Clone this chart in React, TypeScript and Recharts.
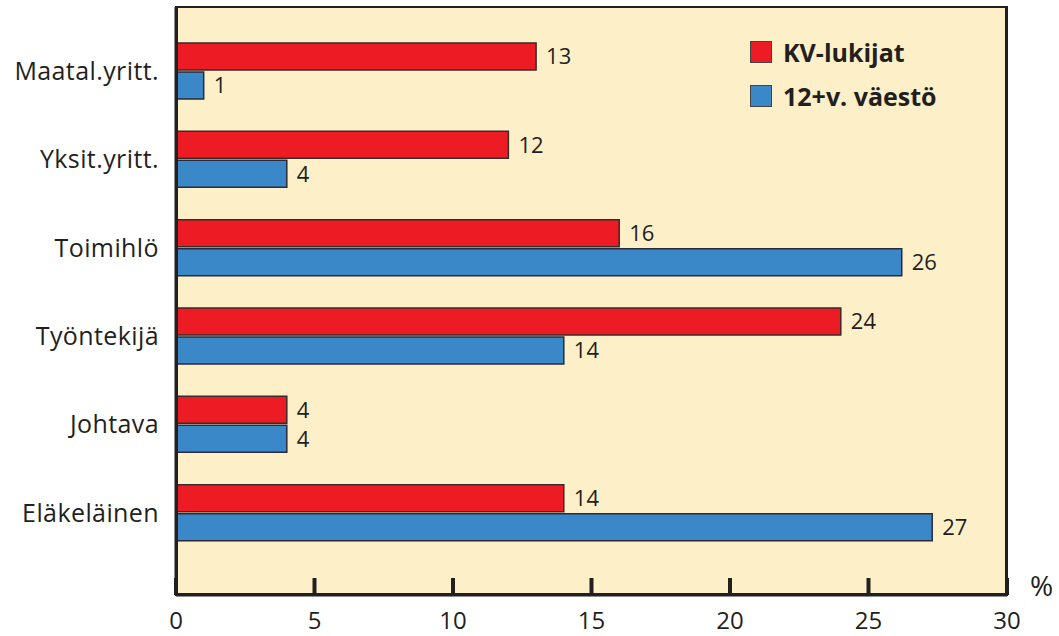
import React from "react";
import { BarChart, Bar, XAxis, YAxis, CartesianGrid, LabelList } from "recharts";

const categories = ["Maatal.yritt.", "Yksit.yritt.", "Toimihlö", "Työntekijä", "Johtava", "Eläkeläinen"];
const kvLukijat = [13, 12, 16, 24, 4, 14];
const vaesto = [1, 4, 26.2, 14, 4, 27.3];
const xTicks = [0, 5, 10, 15, 20, 25, 30];
const seriesNames = ["KV-lukijat", "12+v. väestö"];

const data = categories.map((c, i) => ({ name: c, kv: kvLukijat[i], va: vaesto[i] }));

const FONT = "'Open Sans', 'DejaVu Sans', sans-serif";
const TEXT = "#231f20";
const RED = "#ed1c24";
const BLUE = "#3b88c9";
const BG = "#fdf0c9";

const XTick = (props: any) => {
  const { x, y, payload } = props;
  return (
    <g>
      <line x1={x} x2={x} y1={y - 17} y2={y} stroke="#231f20" strokeWidth={4} />
      <text x={x} y={y + 34} textAnchor="middle" fontSize={24} fill={TEXT} fontFamily={FONT}>
        {payload.value}
      </text>
    </g>
  );
};

export default function App() {
  return (
    <div style={{ position: "absolute", left: 0, top: 0, width: 1059, height: 636 }}>
      <BarChart
        width={1059}
        height={636}
        data={data}
        layout="vertical"
        margin={{ top: 7, right: 52, bottom: 0, left: 0 }}
        barCategoryGap={16}
        barGap={2}
      >
        <CartesianGrid fill={BG} horizontal={false} vertical={false} />
        <XAxis
          type="number"
          domain={[0, 30]}
          ticks={xTicks}
          height={41}
          tickSize={0}
          tickMargin={0}
          tick={<XTick />}
          axisLine={{ stroke: "#231f20", strokeWidth: 3 }}
          tickLine={false}
        />
        <YAxis
          type="category"
          dataKey="name"
          width={176}
          padding={{ top: 20, bottom: 38 }}
          tickLine={false}
          tickMargin={11}
          axisLine={{ stroke: "#231f20", strokeWidth: 3 }}
          tick={{ fontSize: 25, fill: TEXT, fontFamily: FONT, letterSpacing: 0.4 }}
        />
        <Bar dataKey="kv" name={seriesNames[0]} fill={RED} stroke="#3a2a2a" strokeWidth={1.5} isAnimationActive={false}>
          <LabelList
            dataKey="kv"
            position="right"
            offset={10}
            formatter={(v: any) => Math.round(Number(v))}
            style={{ fontSize: 22, fill: TEXT, fontFamily: FONT }}
          />
        </Bar>
        <Bar dataKey="va" name={seriesNames[1]} fill={BLUE} stroke="#2a2a3a" strokeWidth={1.5} isAnimationActive={false}>
          <LabelList
            dataKey="va"
            position="right"
            offset={10}
            formatter={(v: any) => Math.round(Number(v))}
            style={{ fontSize: 22, fill: TEXT, fontFamily: FONT }}
          />
        </Bar>
      </BarChart>
      <div
        style={{
          position: "absolute",
          left: 175,
          top: 6,
          width: 833,
          height: 590,
          boxSizing: "border-box",
          borderStyle: "solid",
          borderColor: "#231f20",
          borderWidth: "2px 3px 3px 3px",
          pointerEvents: "none",
        }}
      />
      <div
        style={{
          position: "absolute",
          left: 750,
          top: 30,
          fontFamily: FONT,
          fontWeight: 700,
          fontSize: 25,
          color: TEXT,
          lineHeight: 1,
        }}
      >
        {seriesNames.map((n, i) => (
          <div key={n} style={{ display: "flex", alignItems: "center", height: 44 }}>
            <span
              style={{
                display: "inline-block",
                width: 20,
                height: 20,
                background: i === 0 ? RED : BLUE,
                border: "1.5px solid #444",
                marginRight: 11,
              }}
            />
            {n}
          </div>
        ))}
      </div>
      <div
        style={{
          position: "absolute",
          left: 1030,
          top: 566,
          fontSize: 28,
          fontFamily: FONT,
          color: TEXT,
        }}
      >
        %
      </div>
    </div>
  );
}
